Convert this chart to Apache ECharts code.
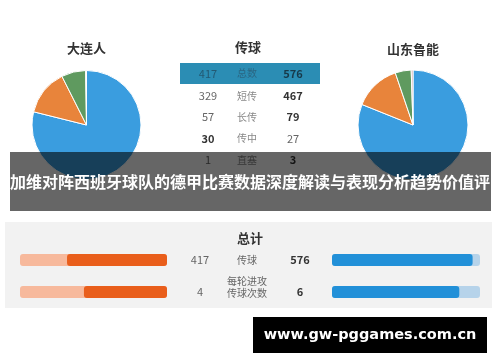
<!DOCTYPE html>
<html><head><meta charset="utf-8">
<script src="https://cdn.jsdelivr.net/npm/echarts@6/dist/echarts.min.js"></script>
<style>html,body{margin:0;padding:0;background:#fff;}#c{width:500px;height:362px;}</style>
</head><body><div id="c"></div>
<script>
var teamLeft = '大连人';
var teamRight = '山东鲁能';
var tableTitle = '传球';
var rowLabels = ['总数', '短传', '长传', '传中', '直塞'];
var leftValues = [417, 329, 57, 30, 1];
var rightValues = [576, 467, 79, 27, 3];
var pieColors = ['#3a9ddf', '#e8843b', '#5f9a5f', '#cfa2a8'];
var bannerText = '加维对阵西班牙球队的德甲比赛数据深度解读与表现分析趋势价值评';
var totalsTitle = '总计';
var totalLabels = ['传球', '每轮进攻\n传球次数'];
var totalLeft = [417, 4];
var totalRight = [576, 6];
var leftBarPct = [68, 56.5];
var rightBarPct = [95, 86];
var watermark = 'www.gw-pggames.com.cn';

var FONT = '"Noto Sans CJK SC", "Noto Sans", sans-serif';
var chart = echarts.init(document.getElementById('c'), null, {renderer: 'canvas'});

function pieData(vals) {
  return rowLabels.slice(1).map(function (n, i) {
    return {name: n, value: vals[i + 1], itemStyle: {color: pieColors[i]}};
  });
}

var graphics = [];
function txt(x, y, s, o) {
  o = o || {};
  graphics.push({type: 'text', x: x, y: y, z: o.z || 10, style: {
    text: s, x: 0, y: 0, align: 'center', verticalAlign: 'middle',
    fill: o.color || '#666', font: (o.bold ? 'bold ' : '') + (o.size || 11) + 'px ' + (o.font || FONT),
    lineHeight: o.lh || undefined
  }});
}

// titles
txt(86.5, 48, teamLeft, {size: 13, bold: true, color: '#333'});
txt(248, 47, tableTitle, {size: 13, bold: true, color: '#333'});
txt(413, 49, teamRight, {size: 13, bold: true, color: '#333'});

// table highlight row
graphics.push({type: 'rect', z: 5, shape: {x: 180, y: 63, width: 140, height: 21}, style: {fill: '#2b8db4'}});
var rowY = [73.5, 96, 117, 138.5, 160];
for (var i = 0; i < rowLabels.length; i++) {
  var lb = leftValues[i] > rightValues[i];
  var rb = rightValues[i] > leftValues[i];
  if (i === 0) {
    txt(208, rowY[i], String(leftValues[i]), {size: 11, color: '#235a73'});
    txt(247, rowY[i], rowLabels[i], {size: 10, color: '#2a6683'});
    txt(293, rowY[i], String(rightValues[i]), {size: 11, bold: true, color: '#17394a'});
  } else {
    txt(208, rowY[i], String(leftValues[i]), {size: 11, bold: lb, color: lb ? '#333' : '#666'});
    txt(247, rowY[i], rowLabels[i], {size: 10, color: '#888'});
    txt(293, rowY[i], String(rightValues[i]), {size: 11, bold: rb, color: rb ? '#333' : '#666'});
  }
}

// banner overlay
graphics.push({type: 'rect', z: 200, shape: {x: 10, y: 152, width: 481, height: 59}, style: {fill: 'rgba(0,0,0,0.6)'}});
txt(250, 182, bannerText, {size: 16, bold: true, color: '#fff', z: 201});

// bottom panel
graphics.push({type: 'rect', z: -10, shape: {x: 5, y: 222, width: 487, height: 86}, style: {fill: '#f2f2f2'}});
txt(250, 238, totalsTitle, {size: 13, bold: true, color: '#333'});
var totY = [260, 292];
for (var j = 0; j < totalLabels.length; j++) {
  txt(200, totY[j], String(totalLeft[j]), {size: 11, color: '#666'});
  txt(247, j === 1 ? 287 : totY[j], totalLabels[j], {size: 10, color: '#666', lh: 12});
  txt(300, totY[j], String(totalRight[j]), {size: 11, bold: true, color: '#333'});
}

// watermark
graphics.push({type: 'rect', z: 300, shape: {x: 253, y: 317, width: 234, height: 36}, style: {fill: '#000'}});
txt(370, 335, watermark, {size: 14.5, bold: true, color: '#fff', z: 301, font: '"DejaVu Sans", sans-serif'});

var option = {
  animation: false,
  backgroundColor: '#fff',
  graphic: {elements: graphics},
  grid: [
    {left: 20, width: 147, top: 244, height: 64},
    {left: 332, width: 148, top: 244, height: 64}
  ],
  xAxis: [
    {gridIndex: 0, type: 'value', min: 0, max: 100, inverse: true, show: false},
    {gridIndex: 1, type: 'value', min: 0, max: 100, show: false}
  ],
  yAxis: [
    {gridIndex: 0, type: 'category', data: totalLabels, inverse: true, show: false},
    {gridIndex: 1, type: 'category', data: totalLabels, inverse: true, show: false}
  ],
  series: [
    {type: 'pie', center: [86.5, 125], radius: 54.5, startAngle: 90, clockwise: true,
     label: {show: false}, labelLine: {show: false}, silent: true,
     itemStyle: {borderColor: '#fff', borderWidth: 1}, data: pieData(leftValues)},
    {type: 'pie', center: [413, 125], radius: 55, startAngle: 90, clockwise: true,
     label: {show: false}, labelLine: {show: false}, silent: true,
     itemStyle: {borderColor: '#fff', borderWidth: 1}, data: pieData(rightValues)},
    {type: 'bar', xAxisIndex: 0, yAxisIndex: 0, data: leftBarPct, barWidth: 12,
     showBackground: true, backgroundStyle: {color: '#f7b99c', borderRadius: 3},
     itemStyle: {color: '#e95e1b', borderRadius: 3}},
    {type: 'bar', xAxisIndex: 1, yAxisIndex: 1, data: rightBarPct, barWidth: 12,
     showBackground: true, backgroundStyle: {color: '#b6d3ea', borderRadius: 3},
     itemStyle: {color: '#2290d8', borderRadius: 3}}
  ]
};
chart.setOption(option);
</script></body></html>
